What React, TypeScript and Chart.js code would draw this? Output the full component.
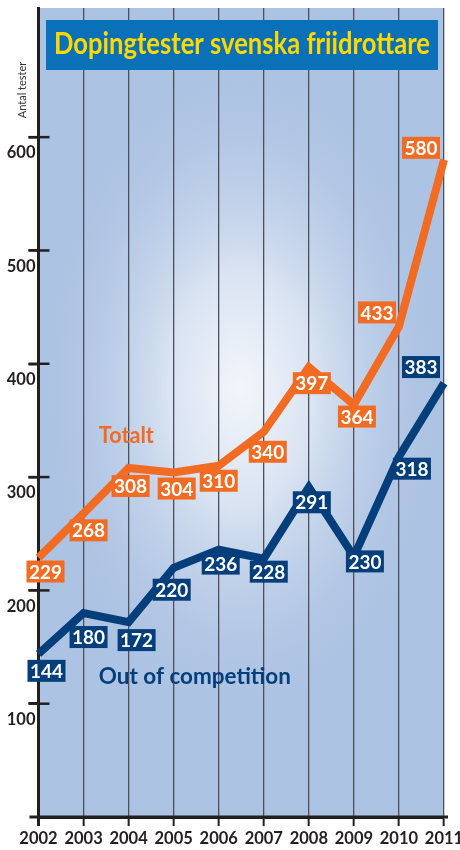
import React, { useEffect, useRef } from "react";
import { Chart, registerables } from "chart.js";

Chart.register(...registerables);

// ---------- data ----------
const years = ["2002", "2003", "2004", "2005", "2006", "2007", "2008", "2009", "2010", "2011"];
const totalt = [229, 268, 308, 304, 310, 340, 397, 364, 433, 580];
const outOfCompetition = [144, 180, 172, 220, 236, 228, 291, 230, 318, 383];
const yTickValues = [100, 200, 300, 400, 500, 600];
const titleText = "Dopingtester svenska friidrottare";
const yAxisTitle = "Antal tester";
const totaltName = "Totalt";
const ocName = "Out of competition";

// ---------- label placement (px offsets from each point) ----------
const totaltLabelOffsets = [[7, 14], [5, 17], [2, 18], [3, 16], [0, 15], [4, 20], [3, 16], [3, 12], [-22, -14], [-23, -12]];
const ocLabelOffsets = [[8, 17], [5, 24], [8, 18], [-2, 22], [2, 14], [5, 13], [3, 15], [11, 5], [13, 12], [-23, -16]];

const ORANGE = "#f26b22";
const NAVY = "#043f7c";
const TITLE_BLUE = "#0a70b8";
const YELLOW = "#ffd800";
const AXIS = "#231f20";
const FONT = "Lato, 'Open Sans', sans-serif";

const decorPlugin = {
  id: "decor",
  beforeDraw(chart: any) {
    const { ctx, chartArea: a, width, height } = chart;
    ctx.save();
    ctx.fillStyle = "#ffffff";
    ctx.fillRect(0, 0, width, height);
    ctx.beginPath();
    ctx.rect(a.left, a.top, a.right - a.left, a.bottom - a.top);
    ctx.clip();
    ctx.fillStyle = "#adc3e3";
    ctx.fillRect(a.left, a.top, a.right - a.left, a.bottom - a.top);
    const cx = a.left + (a.right - a.left) * 0.5;
    const cy = a.top + (a.bottom - a.top) * 0.47;
    ctx.translate(cx, cy);
    ctx.scale(1, 1.6);
    const g = ctx.createRadialGradient(0, 0, 0, 0, 0, 210);
    g.addColorStop(0, "#f3f6fb");
    g.addColorStop(0.35, "#d9e3f2");
    g.addColorStop(1, "rgba(173,195,227,0)");
    ctx.fillStyle = g;
    ctx.fillRect(-300, -400, 600, 800);
    ctx.restore();
  },
  beforeDatasetsDraw(chart: any) {
    const { ctx, chartArea: a } = chart;
    const y = chart.scales.y;
    ctx.save();
    ctx.strokeStyle = AXIS;
    ctx.lineWidth = 2.5;
    y.ticks.forEach((t: any) => {
      const py = y.getPixelForValue(t.value);
      ctx.beginPath();
      ctx.moveTo(a.left - 10, py);
      ctx.lineTo(a.left + 11, py);
      ctx.stroke();
    });
    ctx.lineWidth = 3;
    ctx.beginPath();
    ctx.moveTo(a.left - 9, a.bottom);
    ctx.lineTo(a.right + 4, a.bottom);
    ctx.stroke();
    ctx.beginPath();
    ctx.moveTo(a.left, a.top);
    ctx.lineTo(a.left, a.bottom + 9);
    ctx.stroke();
    ctx.restore();
  },
  afterDatasetsDraw(chart: any) {
    const { ctx } = chart;
    const xs = chart.scales.x;
    const ys = chart.scales.y;
    ctx.save();

    ctx.textBaseline = "middle";
    ctx.textAlign = "left";
    ctx.font = `bold 22px ${FONT}`;
    ctx.fillStyle = ORANGE;
    ctx.fillText(totaltName, xs.getPixelForValue(1.34), ys.getPixelForValue(336), 55);
    ctx.fillStyle = NAVY;
    ctx.font = `bold 23px ${FONT}`;
    ctx.fillText(ocName, xs.getPixelForValue(1.34), ys.getPixelForValue(123.5), 192);

    const drawLabels = (dsIndex: number, values: number[], offs: number[][], color: string) => {
      const meta = chart.getDatasetMeta(dsIndex);
      ctx.font = `bold 19px ${FONT}`;
      ctx.textAlign = "center";
      ctx.textBaseline = "middle";
      meta.data.forEach((pt: any, i: number) => {
        const cx = pt.x + offs[i][0];
        const cy = pt.y + offs[i][1];
        ctx.fillStyle = color;
        ctx.fillRect(cx - 19, cy - 11, 38, 22);
        ctx.fillStyle = "#ffffff";
        ctx.fillText(String(values[i]), cx, cy + 1, 33);
      });
    };
    drawLabels(0, totalt, totaltLabelOffsets, ORANGE);
    drawLabels(1, outOfCompetition, ocLabelOffsets, NAVY);

    ctx.fillStyle = TITLE_BLUE;
    ctx.fillRect(46, 20, 392, 50);
    ctx.fillStyle = YELLOW;
    ctx.font = `bold 30px ${FONT}`;
    ctx.textAlign = "center";
    ctx.textBaseline = "alphabetic";
    ctx.fillText(titleText, 242, 54, 376);

    ctx.translate(22, 90);
    ctx.rotate(-Math.PI / 2);
    ctx.fillStyle = "#333333";
    ctx.font = `11px ${FONT}`;
    ctx.textAlign = "center";
    ctx.textBaseline = "middle";
    ctx.fillText(yAxisTitle, 0, 0, 60);
    ctx.restore();
  },
};

export default function App() {
  const ref = useRef<HTMLCanvasElement | null>(null);
  useEffect(() => {
    document.body.style.margin = "0";
    const canvas = ref.current!;
    const chart = new Chart(canvas, {
      type: "line",
      data: {
        labels: years,
        datasets: [
          {
            label: totaltName,
            data: totalt,
            borderColor: ORANGE,
            borderWidth: 8,
            pointRadius: 0,
            tension: 0,
            borderJoinStyle: "miter",
            borderCapStyle: "butt",
          },
          {
            label: ocName,
            data: outOfCompetition,
            borderColor: NAVY,
            borderWidth: 8,
            pointRadius: 0,
            tension: 0,
            borderJoinStyle: "miter",
            borderCapStyle: "butt",
          },
        ],
      },
      options: {
        responsive: false,
        animation: false,
        devicePixelRatio: 1,
        layout: { padding: { top: 8, left: 0, right: 16, bottom: 0 } },
        plugins: {
          legend: { display: false },
          title: { display: false },
          tooltip: { enabled: false },
        },
        scales: {
          x: {
            type: "category",
            offset: false,
            grid: {
              display: true,
              drawOnChartArea: true,
              color: "#4d4f5a",
              lineWidth: 1.3,
              tickLength: 9,
              tickColor: AXIS,
              tickWidth: 2,
            },
            border: { display: true, color: AXIS, width: 3 },
            ticks: {
              color: AXIS,
              font: { family: FONT, size: 16.5, weight: "bold" },
              padding: 3,
              maxRotation: 0,
              autoSkip: false,
            },
            afterFit: (s: any) => {
              s.height = 33;
              s.paddingLeft = 0;
              s.paddingRight = 0;
            },
          },
          y: {
            type: "linear",
            min: 0,
            max: 714,
            grid: {
              display: true,
              drawOnChartArea: false,
              drawTicks: true,
              tickLength: 10,
              color: AXIS,
              lineWidth: 2.5,
            },
            border: { display: true, color: AXIS, width: 3 },
            afterBuildTicks: (s: any) => {
              s.ticks = yTickValues.map((v) => ({ value: v }));
            },
            ticks: {
              color: AXIS,
              font: { family: FONT, size: 16.5, weight: "bold" },
              padding: -7,
              labelOffset: 16,
            },
            afterFit: (s: any) => {
              s.width = 38.5;
              s.paddingTop = 0;
              s.paddingBottom = 0;
            },
          },
        },
      },
      plugins: [decorPlugin],
    } as any);
    return () => chart.destroy();
  }, []);
  return (
    <canvas
      ref={ref}
      width={460}
      height={850}
      style={{ display: "block", width: 460, height: 850 }}
    />
  );
}
